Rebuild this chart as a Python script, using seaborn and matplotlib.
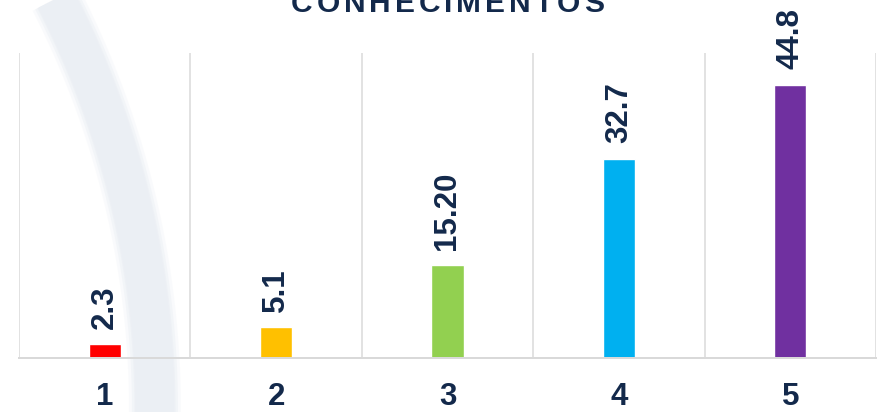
import numpy as np
import matplotlib
matplotlib.use("Agg")
import matplotlib.pyplot as plt
import seaborn as sns
from matplotlib.font_manager import FontProperties

# Data
categories = ["1", "2", "3", "4", "5"]
value_labels = ["2.3", "5.1", "15.20", "32.7", "44.8"]
values = [float(v) for v in value_labels]
bar_colors = ["#FF0000", "#FFC000", "#92D050", "#00B0F0", "#7030A0"]
title = "CONHECIMENTOS"

NAVY = "#13294B"
GRID = "#D9D9D9"

sns.set_style("white")
plt.rcParams["font.family"] = ["Liberation Sans", "DejaVu Sans"]

W, H, DPI = 878, 412, 100
fig = plt.figure(figsize=(W / DPI, H / DPI), dpi=DPI)
fig.patch.set_facecolor("white")

# Decorative background arc (pixel coordinates, y downward)
bg = fig.add_axes([0, 0, 1, 1], zorder=0)
bg.set_xlim(0, W)
bg.set_ylim(H, 0)
bg.axis("off")
R = 900.0
cx, cy = 155.0 - R, 410.0
t = np.linspace(-0.05, 0.52, 400)
ax_pts = cx + R * np.cos(t)
ay_pts = cy - R * np.sin(t)
px2pt = 72.0 / DPI
for extra, alpha in [(14, 0.25), (8, 0.45), (3, 0.7), (0, 1.0)]:
    bg.plot(ax_pts, ay_pts, color="#EBEFF4", lw=(38 + extra) * px2pt,
            alpha=alpha, solid_capstyle="butt")

# Main axes
left, right = 19 / W, 876 / W
bottom, top = 1 - 358 / H, 1 - 53 / H
ax = fig.add_axes([left, bottom, right - left, top - bottom], zorder=1)
ax.set_facecolor("none")

sns.barplot(x=categories, y=values, hue=categories, palette=bar_colors,
            legend=False, width=0.187, saturation=1.0, ax=ax)

ax.set_xlim(-0.5, len(categories) - 0.5)
ax.set_ylim(0, 50)
ax.set_yticks([])
ax.set_xlabel("")
ax.set_ylabel("")

# category separators
ax.set_xticks(np.arange(len(categories) + 1) - 0.5, minor=True)
ax.grid(False)
ax.grid(True, which="minor", axis="x", color=GRID, lw=1.5 * px2pt)
ax.tick_params(axis="x", which="both", length=0, pad=17)
for lbl in ax.get_xticklabels():
    lbl.set_fontfamily(["Liberation Sans Narrow", "Liberation Sans"])
    lbl.set_fontweight("bold")
    lbl.set_fontsize(22.5)
    lbl.set_color(NAVY)

for side in ["left", "right", "top"]:
    ax.spines[side].set_visible(False)
ax.spines["bottom"].set_color(GRID)
ax.spines["bottom"].set_linewidth(2 * px2pt)

# value labels above bars
for i, (v, s) in enumerate(zip(values, value_labels)):
    ax.annotate(s, xy=(i, v), xytext=(0, 11), textcoords="offset points",
                rotation=90, ha="center", va="bottom", fontsize=22.5,
                fontweight="bold", color=NAVY)

# letter-spaced title
fp = FontProperties(family="Liberation Sans", weight="bold", size=21.5)
renderer = fig.canvas.get_renderer()
def text_w(s):
    if not s:
        return 0.0
    w, h, d = renderer.get_text_width_height_descent(s, fp, ismath=False)
    return w
spacing = 4.0
total = text_w(title) + spacing * (len(title) - 1)
x0 = 447.5 - total / 2
ty = 1 - 12 / H
for i, ch in enumerate(title):
    xi = x0 + text_w(title[:i]) + spacing * i
    fig.text(xi / W, ty, ch, fontproperties=fp, color=NAVY,
             ha="left", va="baseline", zorder=3)

fig.savefig("out.png", dpi=DPI, facecolor="white")
